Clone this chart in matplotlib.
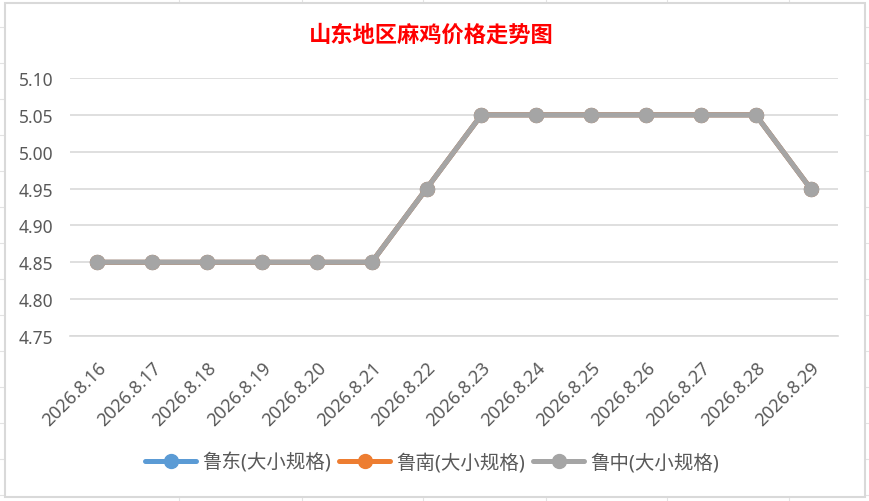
import matplotlib.pyplot as plt
from matplotlib.patches import Rectangle
from matplotlib.lines import Line2D

plt.rcParams['font.family'] = ['Noto Sans', 'Noto Sans CJK SC', 'DejaVu Sans']

dates = ['2026.8.16', '2026.8.17', '2026.8.18', '2026.8.19', '2026.8.20',
         '2026.8.21', '2026.8.22', '2026.8.23', '2026.8.24', '2026.8.25',
         '2026.8.26', '2026.8.27', '2026.8.28', '2026.8.29']
ludong = [4.85, 4.85, 4.85, 4.85, 4.85, 4.85, 4.95,
          5.05, 5.05, 5.05, 5.05, 5.05, 5.05, 4.95]
lunan = [4.85, 4.85, 4.85, 4.85, 4.85, 4.85, 4.95,
         5.05, 5.05, 5.05, 5.05, 5.05, 5.05, 4.95]
luzhong = [4.85, 4.85, 4.85, 4.85, 4.85, 4.85, 4.95,
           5.05, 5.05, 5.05, 5.05, 5.05, 5.05, 4.95]
names = ['鲁东(大小规格)', '鲁南(大小规格)', '鲁中(大小规格)']
colors = ['#5B9BD5', '#ED7D31', '#A5A5A5']
yticks = [4.75, 4.80, 4.85, 4.90, 4.95, 5.00, 5.05, 5.10]

W, H = 870, 502
fig = plt.figure(figsize=(W / 100, H / 100), dpi=100)

# spreadsheet cell lines behind the chart
for x in [179, 302, 423, 546, 667, 789]:
    fig.add_artist(Line2D([x / W, x / W], [0, 1], color='#E3E3E3', lw=0.8, zorder=-3))
for y in range(28, H, 36):
    fig.add_artist(Line2D([0, 1], [1 - y / H, 1 - y / H], color='#E3E3E3', lw=0.8, zorder=-3))
fig.add_artist(Rectangle((5 / W, 4 / H), 860 / W, 494 / H, transform=fig.transFigure,
                         facecolor='white', edgecolor='#D9D9D9', lw=1.5, zorder=-2))

ax = fig.add_axes([70 / W, 1 - 337 / H, 768 / W, 258 / H])
ax.set_facecolor('none')
x = list(range(len(dates)))
for vals, name, c in zip([ludong, lunan, luzhong], names, colors):
    ax.plot(x, vals, color=c, lw=3.6, marker='o', markersize=10, label=name,
            solid_capstyle='round')

ax.set_xlim(-0.5, len(dates) - 0.5)
ax.set_ylim(4.75, 5.10)
ax.set_yticks(yticks)
ax.set_yticklabels(['%.2f' % v for v in yticks])
ax.grid(axis='y', color='#D9D9D9', lw=1.2)
ax.set_axisbelow(True)
for s in ['top', 'right', 'left']:
    ax.spines[s].set_visible(False)
ax.spines['bottom'].set_color('#D9D9D9')
ax.spines['bottom'].set_linewidth(1.2)
ax.tick_params(axis='both', length=0, labelsize=12.5, labelcolor='#595959')
ax.tick_params(axis='y', pad=12)
ax.set_xticks(x)
ax.set_xticklabels(dates, rotation=45, ha='right', va='top', rotation_mode='anchor')
ax.tick_params(axis='x', pad=16, labelsize=13)

fig.text(431 / W, 1 - 35 / H, '山东地区麻鸡价格走势图', color='red', fontsize=16,
         fontweight='bold', family=['Noto Sans CJK SC'], ha='center', va='center')

fig.legend(loc='center', bbox_to_anchor=(0.497, 0.076), ncol=3, frameon=False,
           fontsize=14, labelcolor='#595959', handlelength=2.6, columnspacing=0.4,
           handletextpad=0.35)

fig.savefig('out.png', dpi=100, facecolor='white')
